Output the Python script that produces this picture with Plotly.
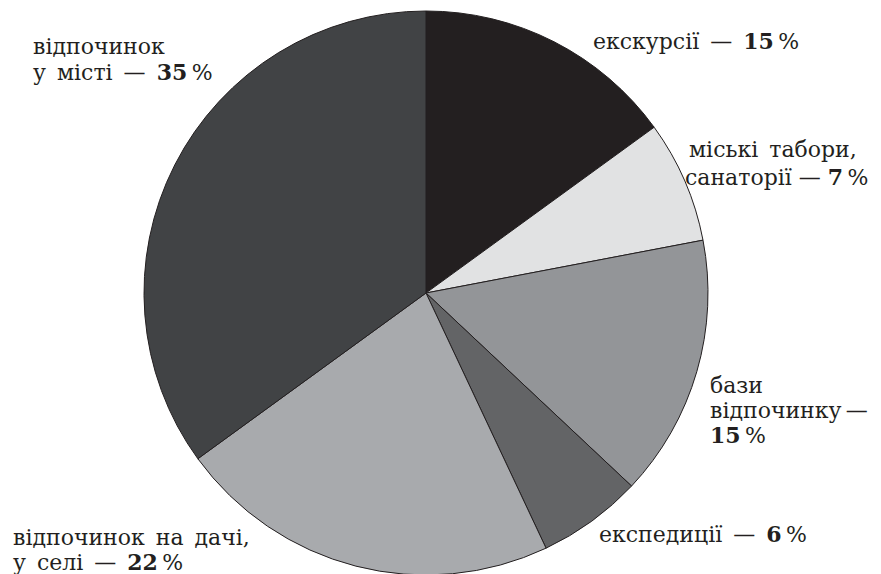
import plotly.graph_objects as go

labels = ["екскурсії", "міські табори, санаторії", "бази відпочинку", "експедиції",
          "відпочинок на дачі, у селі", "відпочинок у місті"]
values = [15, 7, 15, 6, 22, 35]
colors = ["#231f20", "#e1e2e3", "#939598", "#636466", "#a8aaad", "#414345"]

SP = "\u2002"  # wide word space as in the reference typesetting
label_lines = [
    ["екскурсії" + SP + "—" + SP + "{p}"],
    ["міські" + SP + "табори,", "санаторії" + " " + "—" + " " + "{p}"],
    ["бази", "відпочинку" + "\u2009" + "—", "{p}"],
    ["експедиції" + SP + "—" + SP + "{p}"],
    ["відпочинок" + SP + "на" + SP + "дачі,", "у" + SP + "селі" + SP + "—" + SP + "{p}"],
    ["відпочинок", "у" + SP + "місті" + SP + "—" + SP + "{p}"],
]
# left x and centre y of each line, in pixels of the shown window
label_x = [[592], [688, 684], [709, 709, 709], [598], [12, 12], [32, 32]]
label_y = [[41], [150, 177], [385, 410, 435], [534], [537, 562], [46, 72]]

W, H = 881, 574
OFF = 8  # page body margin offset
cx, cy, r = 426 - OFF, 293 - OFF, 282

fig = go.Figure()
fig.add_trace(go.Pie(
    labels=labels, values=values, sort=False, direction="clockwise", rotation=0,
    marker=dict(colors=colors, line=dict(color="#231f20", width=1)),
    textinfo="none", hoverinfo="label+percent",
    domain=dict(x=[(cx - r) / W, (cx + r) / W],
                y=[1 - (cy + r) / H, 1 - (cy - r) / H]),
))

font = dict(family="DejaVu Serif", size=22, color="#231f20")
for lines, v, xs, ys in zip(label_lines, values, label_x, label_y):
    pct = "<b>%d</b>\u2009%%" % v
    for line, px, py in zip(lines, xs, ys):
        fig.add_annotation(
            x=(px - OFF - 1) / W, y=1 - (py - OFF) / H, xref="paper", yref="paper",
            xanchor="left", yanchor="middle",
            text=line.format(p=pct), showarrow=False, align="left", font=font,
        )

fig.update_layout(
    width=W, height=H, margin=dict(l=0, r=0, t=0, b=0),
    paper_bgcolor="white", plot_bgcolor="white", showlegend=False,
)
fig.write_html("out.html")
